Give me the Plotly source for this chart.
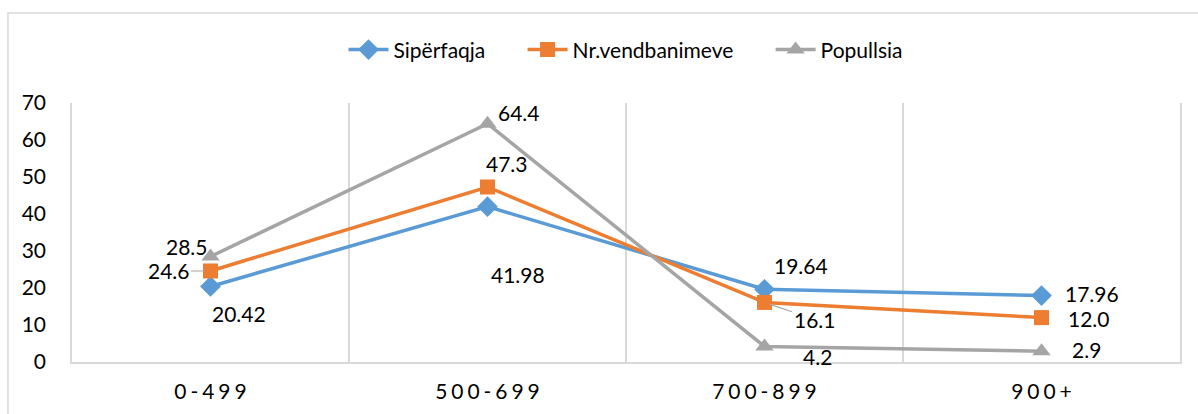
import plotly.graph_objects as go

# lartesia mbi nivelin e detit (m)
categories = ["0-499", "500-699", "700-899", "900+"]
siperfaqja = [20.42, 41.98, 19.64, 17.96]
vendbanime = [24.6, 47.3, 16.1, 12.0]
popullsia = [28.5, 64.4, 4.2, 2.9]
label_sip = ["20.42", "41.98", "19.64", "17.96"]
label_vend = ["24.6", "47.3", "16.1", "12.0"]
label_pop = ["28.5", "64.4", "4.2", "2.9"]

blue = "#5B9BD5"
orange = "#ED7D31"
gray = "#A5A5A5"
font = "Lato, Calibri, sans-serif"
pad = "\u00a0" * 6  # hapesire ne legjende

fig = go.Figure()
fig.add_trace(go.Scatter(x=categories, y=siperfaqja, name="Sipërfaqja" + pad, mode="lines+markers",
                         line=dict(color=blue, width=3.5),
                         marker=dict(symbol="diamond", size=16, color=blue)))
fig.add_trace(go.Scatter(x=categories, y=vendbanime, name="Nr.vendbanimeve" + pad, mode="lines+markers",
                         line=dict(color=orange, width=3.5),
                         marker=dict(symbol="square", size=15, color=orange)))
fig.add_trace(go.Scatter(x=categories, y=popullsia, name="Popullsia", mode="lines+markers",
                         line=dict(color=gray, width=3.5),
                         marker=dict(symbol="triangle-up", size=16, color=gray)))

# pozicionet e etiketave (pixel) si ne Excel
offsets_sip = [(28, -27), (30, -68), (36, 24), (50, 2)]
offsets_vend = [(-42, 0), (19, 23), (50, -17), (47, -1)]
offsets_pop = [(-24, 10), (31, 11), (53, -10), (45, 2)]
leaders_vend = [True, False, True, False]
leaders_pop = [True, False, False, False]

def add_labels(vals, texts, offs, leaders=None):
    for i, (c, v, t, o) in enumerate(zip(categories, vals, texts, offs)):
        lead = leaders[i] if leaders else False
        if lead:
            fig.add_annotation(x=c, y=v, text=t, showarrow=True, ax=o[0], ay=-o[1],
                               arrowhead=0, arrowwidth=1.2, arrowcolor="#A6A6A6", standoff=6,
                               font=dict(family=font, size=21, color="black"))
        else:
            fig.add_annotation(x=c, y=v, text=t, showarrow=False, xshift=o[0], yshift=o[1],
                               font=dict(family=font, size=21, color="black"))

add_labels(siperfaqja, label_sip, offsets_sip)
add_labels(vendbanime, label_vend, offsets_vend, leaders_vend)
add_labels(popullsia, label_pop, offsets_pop, leaders_pop)

# korniza e jashtme
fig.add_shape(type="rect", xref="paper", yref="paper", x0=-0.0578, x1=1.05, y0=-0.3, y1=1.3475,
              line=dict(color="#D9D9D9", width=1.5), layer="below")

fig.update_layout(
    width=1198, height=414,
    margin=dict(l=72, r=18, t=103, b=52, autoexpand=False),
    paper_bgcolor="white", plot_bgcolor="white",
    font=dict(family=font, size=21, color="black"),
    showlegend=True,
    legend=dict(orientation="h", x=0.50, xanchor="center", y=1.205, yanchor="middle",
                font=dict(size=21), itemwidth=40, tracegroupgap=0),
    xaxis=dict(type="category", range=[-0.5, 3.5], tickson="boundaries", automargin=False,
               tickvals=categories, ticktext=["\u2009\u200a".join(c) for c in categories],
               showgrid=True, gridcolor="#D9D9D9", gridwidth=1.5,
               showline=True, linecolor="#D9D9D9", linewidth=1.5,
               ticks="", ticklabelstandoff=10, zeroline=False),
    yaxis=dict(range=[0, 70], dtick=10, showgrid=False, zeroline=False, automargin=False,
               showline=True, mirror=True, linecolor="#D9D9D9", linewidth=1.5,
               ticks="", ticklabelstandoff=20),
)

fig.write_html("out.html", config={"displayModeBar": False},
               post_script="document.body.style.margin='0';")
